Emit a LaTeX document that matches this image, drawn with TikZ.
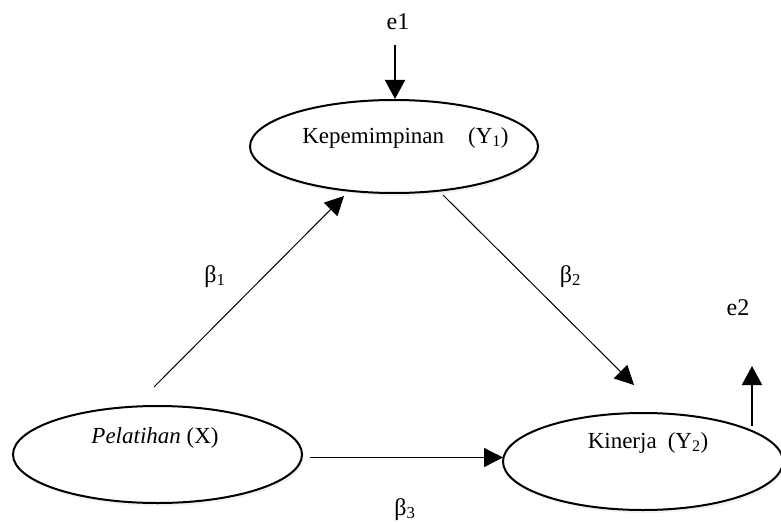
\documentclass[tikz,border=0pt]{standalone}
\usepackage{fontspec}
\setmainfont{Liberation Serif}
\usetikzlibrary{arrows.meta,shapes.geometric,shadows}
\tikzset{
  ell/.style={ellipse, draw=black, line width=2pt, fill=white, inner sep=0pt,
    drop shadow={opacity=0.10, shadow xshift=2pt, shadow yshift=-3pt}},
  lab/.style={anchor=base, inner sep=0pt, font=\fontsize{23}{27}\selectfont},
  tag/.style={anchor=base, inner sep=0pt, font=\fontsize{24}{28}\selectfont},
  thinarrow/.style={line width=1pt, -{Triangle[length=19pt,width=19pt]}},
  thickarrow/.style={line width=2pt, -{Triangle[length=19pt,width=20pt]}},
}
\begin{document}
\begin{tikzpicture}[x=1pt,y=-1pt]
\useasboundingbox (0,0) rectangle (781,524);
\clip (0,0) rectangle (781,524);
% ellipses
\node[ell, minimum width=288pt, minimum height=93pt] (kep) at (394,146.5) {};
\node[ell, minimum width=289pt, minimum height=97pt] (pel) at (157.5,454.5) {};
\node[ell, minimum width=280pt, minimum height=97pt] (kin) at (643,461.5) {};
% ellipse labels
\node[lab] (keplab) at (405.5,143) {Kepemimpinan\hspace{24pt}(Y\textsubscript{1})};
\node[lab] (pellab) at (155,443) {\textit{Pelatihan} (X)};
\node[lab] (kinlab) at (648,448) {Kinerja\hspace{11pt}(Y\textsubscript{2})};
% error terms
\node[tag] (e1) at (398,30) {e1};
\node[tag] (e2) at (738,315) {e2};
\coordinate (e1s) at (395,45);
\coordinate (e1t) at (395,99);
\coordinate (e2s) at (752,426);
\coordinate (e2t) at (752,366);
\draw[thickarrow] (e1s) -- (e1t);
\draw[thickarrow] (e2s) -- (e2t);
% paths
\coordinate (b1s) at (154,387);
\coordinate (b1t) at (344,196);
\coordinate (b2s) at (443,195);
\coordinate (b2t) at (634,385);
\coordinate (b3s) at (310,457.5);
\coordinate (b3t) at (503,457.5);
\draw[thinarrow] (b1s) -- (b1t);
\draw[thinarrow] (b2s) -- (b2t);
\draw[thinarrow, line width=1.3pt] (b3s) -- (b3t);
% coefficient labels
\node[tag] (beta1) at (215,282) {β\textsubscript{1}};
\node[tag] (beta2) at (570.5,282) {β\textsubscript{2}};
\node[tag] (beta3) at (405,515) {β\textsubscript{3}};
\end{tikzpicture}
\end{document}
